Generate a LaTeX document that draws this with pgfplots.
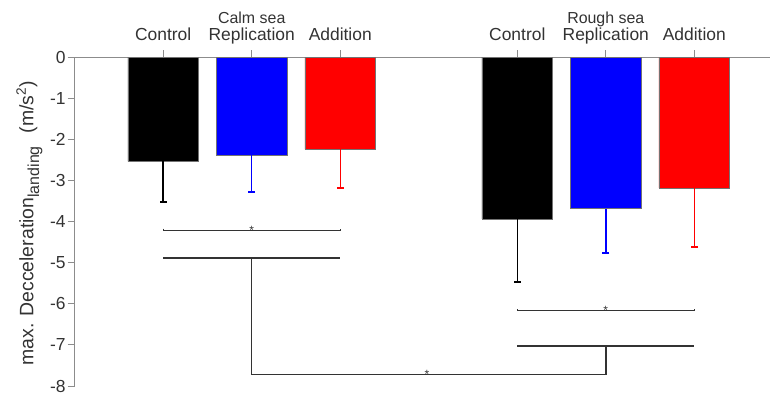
\documentclass[border=0pt]{standalone}
\usepackage{fontspec}
\setmainfont{Liberation Sans}
\usepackage{pgfplots}
\pgfplotsset{compat=1.18}
\definecolor{axgray}{HTML}{8C8C8C}
\definecolor{sigline}{HTML}{333333}
\begin{document}
\begin{tikzpicture}
\begin{axis}[scale only axis, width=695.3bp, height=328.7bp,
  xmin=-1, xmax=6.855, ymin=-8, ymax=0,
  axis x line*=top, axis y line*=left,
  axis line style={axgray, line width=1.2pt},
  tick style={axgray, line width=1pt}, tick align=outside, major tick length=7bp,
  xtick={0,1,2,4,5,6},
  xticklabels={Control,Replication,Addition,Control,Replication,Addition},
  ytick={-8,-7,-6,-5,-4,-3,-2,-1,0},
  yticklabels={-8,-7,-6,-5,-4,-3,-2,-1,0},
  tick label style={font=\fontsize{17.5}{20}\selectfont, text=black!80},
  xticklabel style={anchor=base, yshift=9.6bp},
  yticklabel style={xshift=1.5bp},
  ylabel={max. Decceleration\raisebox{-0.3em}{\fontsize{16}{16}\selectfont landing}\hspace{13bp}(m/s\textsuperscript{2})},
  ylabel style={font=\fontsize{19.5}{22}\selectfont, text=black!80, at={(axis description cs:-0.0595,0.495)}, anchor=base},
  clip=false]
% bars with downward error bars
\addplot[ybar, bar width=0.8, bar shift=0pt, fill=black, draw=black!55, line width=0.5pt,
  error bars/.cd, y dir=minus, y explicit, error bar style={black, line width=1.5bp},
  error mark options={rotate=90, black, line width=2bp, mark size=3.5bp}]
  coordinates {(0,-2.53) +- (0,0.99) (4,-3.93) +- (0,1.55)};
\addplot[ybar, bar width=0.8, bar shift=0pt, fill=blue, draw=black!55, line width=0.5pt,
  error bars/.cd, y dir=minus, y explicit, error bar style={blue, line width=1.5bp},
  error mark options={rotate=90, blue, line width=2bp, mark size=3.5bp}]
  coordinates {(1,-2.39) +- (0,0.89) (5,-3.68) +- (0,1.09)};
\addplot[ybar, bar width=0.8, bar shift=0pt, fill=red, draw=black!55, line width=0.5pt,
  error bars/.cd, y dir=minus, y explicit, error bar style={red, line width=1.5bp},
  error mark options={rotate=90, red, line width=2bp, mark size=3.5bp}]
  coordinates {(2,-2.24) +- (0,0.94) (6,-3.18) +- (0,1.44)};
% significance brackets
\addplot[sigline, line width=1.3bp, no marks] coordinates {(0,-4.17) (0,-4.21) (2,-4.21) (2,-4.17)};
\addplot[sigline, line width=1.3bp, no marks] coordinates {(4,-6.13) (4,-6.17) (6,-6.17) (6,-6.13)};
\addplot[sigline, line width=1.5bp, no marks] coordinates {(0,-4.88) (2,-4.88)};
\addplot[sigline, line width=1.5bp, no marks] coordinates {(1,-4.88) (1,-7.72) (5,-7.72) (5,-7.03)};
\addplot[sigline, line width=1.5bp, no marks] coordinates {(4,-7.03) (6,-7.03)};
\node[anchor=base, inner sep=0pt, font=\fontsize{12}{12}\selectfont, text=sigline] at ([yshift=-4bp]axis cs:1,-4.21) {*};
\node[anchor=base, inner sep=0pt, font=\fontsize{12}{12}\selectfont, text=sigline] at ([yshift=-4bp]axis cs:5,-6.17) {*};
\node[anchor=base, inner sep=0pt, font=\fontsize{12}{12}\selectfont, text=sigline] at ([yshift=-4bp]axis cs:2.98,-7.72) {*};
% group titles
\node[anchor=base, inner sep=0pt, font=\fontsize{16}{18}\selectfont, text=black!80] at ([yshift=33.3bp]axis cs:1,0) {Calm sea};
\node[anchor=base, inner sep=0pt, font=\fontsize{16}{18}\selectfont, text=black!80] at ([yshift=33.3bp]axis cs:5,0) {Rough sea};
\end{axis}
\pgfresetboundingbox
\path[use as bounding box] (-74.7bp,-8bp) rectangle (695.3bp,386bp);
\end{tikzpicture}
\end{document}
